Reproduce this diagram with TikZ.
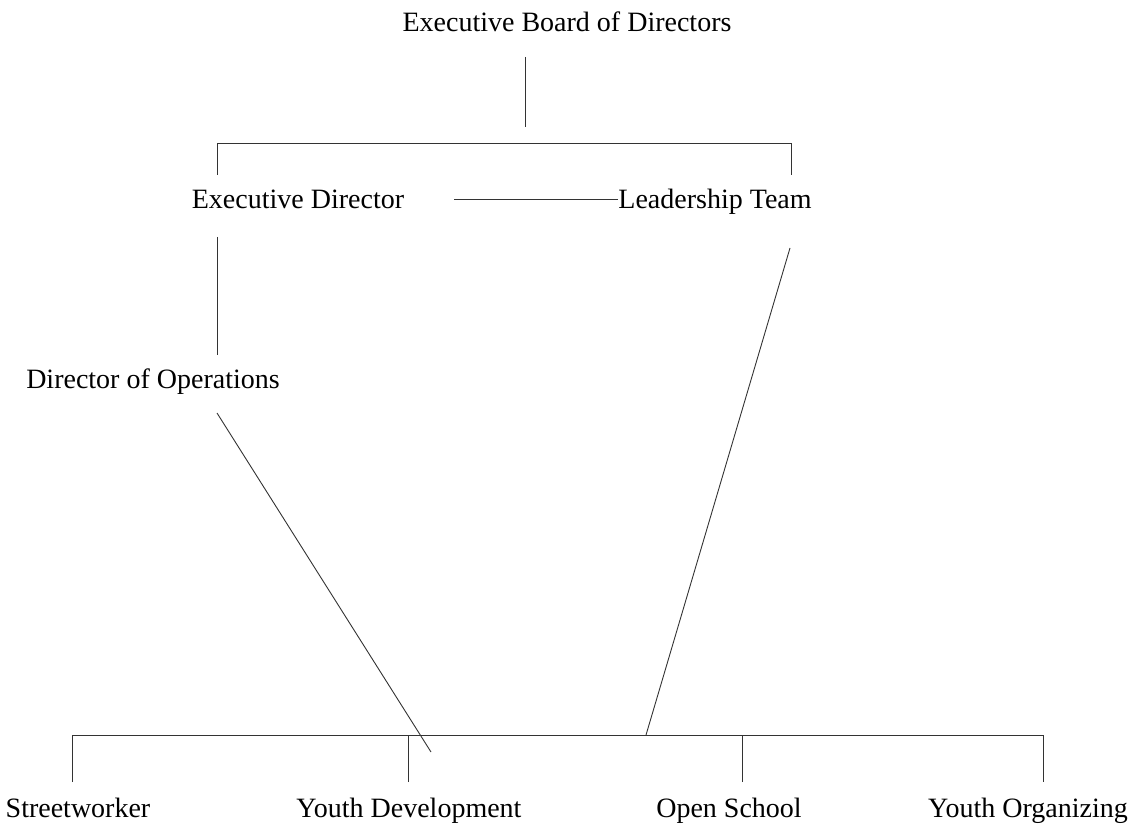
\documentclass[tikz,border=0pt]{standalone}
\usepackage{fontspec}
\setmainfont{Liberation Serif}
\begin{document}
\begin{tikzpicture}[x=1pt,y=-1pt,
    every node/.style={font=\fontsize{28}{33}\selectfont, inner sep=0pt},
    post/.style={anchor=base},
    link/.style={draw=black!80, line width=0.9pt}]
  \useasboundingbox (0,0) rectangle (1143,829);
  % posts
  \node[post] (board) at (567,32) {Executive Board of Directors};
  \node[post] (exec) at (298,208) {Executive Director};
  \node[post] (lead) at (715,208) {Leadership Team};
  \node[post] (ops) at (153,388) {Director of Operations};
  \node[post] (street) at (78,817) {Streetworker};
  \node[post] (youthdev) at (409,817) {Youth Development};
  \node[post] (open) at (729,817) {Open School};
  \node[post] (youthorg) at (1028,817) {Youth Organizing};
  % line ends
  \coordinate (b1) at (525,57);  \coordinate (b2) at (525,127);
  \coordinate (t1) at (217,175); \coordinate (t2) at (791,175);
  \coordinate (e1) at (454,199); \coordinate (e2) at (618,199);
  \coordinate (o1) at (217,237); \coordinate (o2) at (217,355);
  \coordinate (o3) at (217,413); \coordinate (o4) at (431,752);
  \coordinate (l1) at (790,248); \coordinate (l2) at (646,735);
  \coordinate (d1) at (72,782);  \coordinate (d2) at (408,782);
  \coordinate (d3) at (742,782); \coordinate (d4) at (1043,782);
  % connectors
  \draw[link] (b1) -- (b2);
  \draw[link] (t1) -- ++(0,-32) -| (t2);
  \draw[link] (e1) -- (e2);
  \draw[link] (o1) -- (o2);
  \draw[link] (o3) -- (o4);
  \draw[link] (l1) -- (l2);
  \draw[link] (d1) -- ++(0,-47) -| (d4);
  \draw[link] (d2) -- ++(0,-47);
  \draw[link] (d3) -- ++(0,-47);
\end{tikzpicture}
\end{document}
